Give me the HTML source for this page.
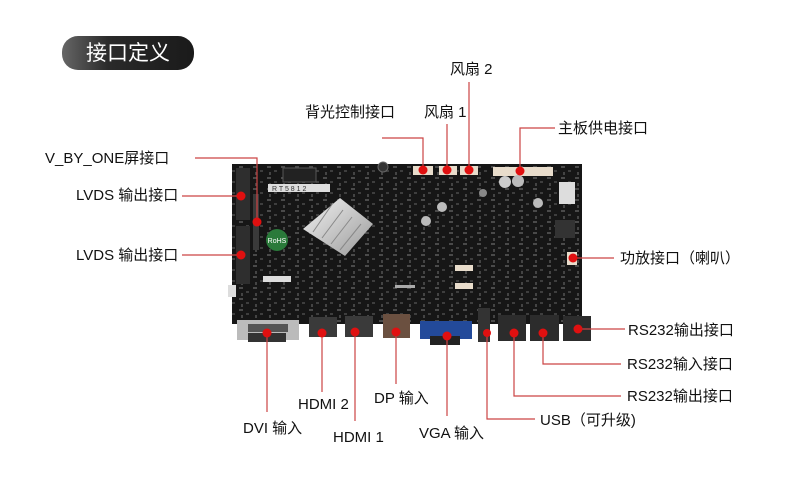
<!DOCTYPE html>
<html><head><meta charset="utf-8"><style>
html,body{margin:0;padding:0;background:#fff;}
svg{display:block}
text{font-family:"Liberation Sans","Noto Sans CJK SC",sans-serif;font-size:15px;fill:#111}
</style></head><body>
<svg width="800" height="501" viewBox="0 0 800 501" xmlns="http://www.w3.org/2000/svg">
<defs>
<linearGradient id="pill" x1="0" y1="0" x2="1" y2="0">
<stop offset="0" stop-color="#666"/><stop offset="0.35" stop-color="#2a2a2a"/><stop offset="1" stop-color="#1a1a1a"/>
</linearGradient>
<linearGradient id="hs" x1="0" y1="0" x2="1" y2="1">
<stop offset="0" stop-color="#f2f2f2"/><stop offset="1" stop-color="#9a9a9a"/>
</linearGradient>
<pattern id="tex" width="14" height="11" patternUnits="userSpaceOnUse">
<rect x="1" y="1" width="4" height="2" fill="#4a4a4a"/>
<rect x="8" y="5" width="3" height="2" fill="#3e3e3e"/>
<rect x="3" y="7" width="2" height="3" fill="#444"/>
</pattern>
</defs>
<rect x="62" y="36" width="132" height="34" rx="16" fill="url(#pill)"/>
<text x="128" y="60" text-anchor="middle" style="font-size:21px;fill:#fff">接口定义</text>

<!-- board -->
<rect x="232" y="164" width="350" height="160" fill="#161616"/>
<rect x="232" y="164" width="350" height="160" fill="url(#tex)"/>
<rect x="236" y="168" width="14" height="52" fill="#2e2e2e"/>
<rect x="236" y="226" width="14" height="58" fill="#2e2e2e"/>
<rect x="253" y="194" width="6" height="56" fill="#3a3a3a"/>
<rect x="268" y="184" width="62" height="8" fill="#ddd"/>
<text x="272" y="191" style="font-size:7px;fill:#333">R T 5 8 1 2</text>
<rect x="283" y="168" width="33" height="14" fill="#222" stroke="#555"/>
<circle cx="277" cy="240" r="11" fill="#2a7a3a"/>
<text x="277" y="243" text-anchor="middle" style="font-size:7px;fill:#fff">RoHS</text>
<polygon points="340,198 373,224 345,256 303,229" fill="url(#hs)"/>
<g stroke="#888" stroke-width="1">
<line x1="333" y1="203" x2="313" y2="232"/><line x1="343" y1="210" x2="322" y2="238"/>
<line x1="352" y1="217" x2="331" y2="244"/><line x1="361" y1="224" x2="340" y2="250"/>
</g>
<circle cx="383" cy="167" r="5" fill="#333" stroke="#666"/>
<rect x="413" y="166" width="20" height="9" fill="#e8dccb"/>
<rect x="439" y="166" width="18" height="9" fill="#e8dccb"/>
<rect x="460" y="166" width="18" height="9" fill="#e8dccb"/>
<rect x="493" y="167" width="60" height="9" fill="#e8dccb"/>
<rect x="559" y="182" width="16" height="22" fill="#ddd"/>
<circle cx="505" cy="182" r="6" fill="#ccc"/><circle cx="518" cy="181" r="6" fill="#bbb"/>
<circle cx="442" cy="207" r="5" fill="#bbb"/><circle cx="426" cy="221" r="5" fill="#bbb"/>
<circle cx="483" cy="193" r="4" fill="#888"/><circle cx="538" cy="203" r="5" fill="#bbb"/>
<rect x="555" y="220" width="20" height="18" fill="#333"/>
<rect x="455" y="265" width="18" height="6" fill="#e8dccb"/>
<rect x="455" y="283" width="18" height="6" fill="#e8dccb"/>
<rect x="567" y="252" width="10" height="13" fill="#e8dccb"/>
<rect x="263" y="276" width="28" height="6" fill="#ddd"/>
<rect x="228" y="285" width="8" height="12" fill="#ddd"/>
<rect x="395" y="285" width="20" height="3" fill="#aaa"/>
<!-- bottom connectors -->
<rect x="237" y="320" width="62" height="20" fill="#bbb"/>
<rect x="248" y="324" width="40" height="8" fill="#555"/>
<rect x="248" y="333" width="38" height="9" fill="#333"/>
<rect x="309" y="317" width="28" height="20" fill="#3a3a3a"/>
<rect x="345" y="316" width="28" height="21" fill="#3a3a3a"/>
<rect x="383" y="314" width="27" height="24" fill="#6b5040"/>
<rect x="420" y="321" width="52" height="18" fill="#234a9a"/>
<rect x="430" y="336" width="30" height="9" fill="#222"/>
<rect x="478" y="308" width="12" height="34" fill="#333"/>
<rect x="498" y="315" width="28" height="26" fill="#2c2c2c"/>
<rect x="530" y="315" width="29" height="26" fill="#2c2c2c"/>
<rect x="563" y="316" width="28" height="25" fill="#2c2c2c"/>

<g stroke="#c44" stroke-width="1.2" fill="none">
<polyline points="469,82 469,170"/>
<polyline points="382,138 423,138 423,170"/>
<polyline points="447,124 447,170"/>
<polyline points="520,171 520,128 555,128"/>
<polyline points="195,158 257,158 257,222"/>
<polyline points="182,196 241,196"/>
<polyline points="182,255 241,255"/>
<polyline points="573,258 614,258"/>
<polyline points="578,329 625,329"/>
<polyline points="543,333 543,364 621,364"/>
<polyline points="514,333 514,396 621,396"/>
<polyline points="487,333 487,419 535,419"/>
<polyline points="267,333 267,412"/>
<polyline points="322,333 322,392"/>
<polyline points="355,332 355,421"/>
<polyline points="396,332 396,384"/>
<polyline points="447,336 447,416"/>
</g>
<g fill="#e01010">
<circle cx="469" cy="170" r="4.5"/><circle cx="423" cy="170" r="4.5"/><circle cx="447" cy="170" r="4.5"/>
<circle cx="520" cy="171" r="4.5"/><circle cx="257" cy="222" r="4.5"/><circle cx="241" cy="196" r="4.5"/>
<circle cx="241" cy="255" r="4.5"/><circle cx="573" cy="258" r="4.5"/><circle cx="578" cy="329" r="4.5"/>
<circle cx="543" cy="333" r="4.5"/><circle cx="514" cy="333" r="4.5"/><circle cx="487" cy="333" r="4"/>
<circle cx="267" cy="333" r="4.5"/><circle cx="322" cy="333" r="4.5"/><circle cx="355" cy="332" r="4.5"/>
<circle cx="396" cy="332" r="4.5"/><circle cx="447" cy="336" r="4.5"/>
</g>

<text x="450" y="74">风扇 2</text>
<text x="305" y="117">背光控制接口</text>
<text x="424" y="117">风扇 1</text>
<text x="558" y="133">主板供电接口</text>
<text x="45" y="163">V_BY_ONE屏接口</text>
<text x="76" y="200">LVDS 输出接口</text>
<text x="76" y="260">LVDS 输出接口</text>
<text x="620" y="263">功放接口（喇叭）</text>
<text x="628" y="335">RS232输出接口</text>
<text x="627" y="369">RS232输入接口</text>
<text x="627" y="401">RS232输出接口</text>
<text x="540" y="425">USB（可升级)</text>
<text x="243" y="433">DVI 输入</text>
<text x="298" y="409">HDMI 2</text>
<text x="333" y="442">HDMI 1</text>
<text x="374" y="403">DP 输入</text>
<text x="419" y="438">VGA 输入</text>
</svg>
</body></html>
